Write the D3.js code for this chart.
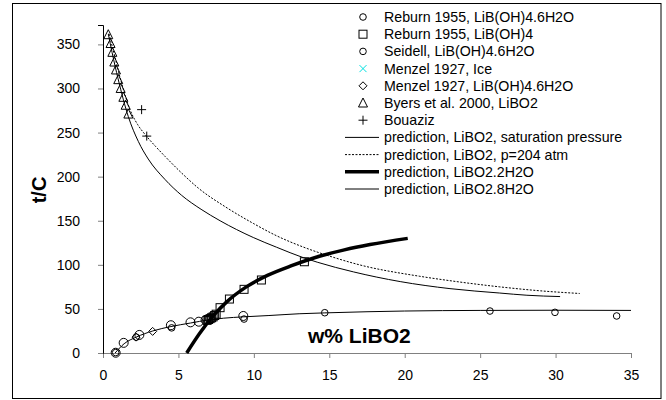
<!DOCTYPE html>
<html>
<head>
<meta charset="utf-8">
<script src="https://cdn.jsdelivr.net/npm/d3@7/dist/d3.min.js"></script>
<style>
  body { margin: 0; background: #fff; }
  svg { font-family: "Liberation Sans", Arial, sans-serif; }
  .axis text { font-size: 14px; fill: #000; }
</style>
</head>
<body>
<div id="chart"></div>
<script>
// measured points, [w% LiBO2, t/C]
const reburnHydrate = [[0.84, 0.3], [1.37, 11.5], [2.41, 20.5], [4.5, 31.5], [5.8, 34.8],
  [6.35, 35.5], [6.8, 37.5], [7.1, 39], [9.3, 42]];
const reburnLiBOH4 = [[6.9, 37], [7.0, 38], [7.1, 39], [7.2, 40], [7.3, 41], [7.4, 42.5], [7.5, 44],
  [7.76, 51.4], [8.38, 61.2], [9.35, 72.2], [10.5, 82.8], [13.35, 103.5]];
const seidell = [[0.84, 0.5], [2.2, 18], [4.55, 28.5], [9.35, 38.5], [14.7, 45.7],
  [25.65, 47.6], [29.96, 46.1], [34.05, 42]];
const menzelIce = [];
const menzelHydrate = [[2.19, 18], [3.29, 24.5]];
const byers = [[0.35, 361], [0.5, 351], [0.62, 341], [0.75, 330], [0.86, 321], [1.01, 310],
  [1.17, 300], [1.35, 290], [1.5, 281], [1.68, 271]];
const bouaziz = [[2.56, 276], [2.9, 246]];

// model curves
const predSat = [[0.35, 362], [0.6, 341], [1.0, 311], [1.68, 268], [2.34, 240], [3.0, 220],
  [4.1, 197], [5.2, 179], [6.5, 163], [7.76, 150], [9.96, 131], [11.5, 120], [13.3, 108],
  [14.2, 103], [16.6, 92], [19.7, 81], [23, 73], [26.3, 68], [28.1, 65.5], [30.3, 64]];
const predP204 = [[0.4, 362], [0.8, 335], [1.2, 308], [1.79, 276], [2.3, 259], [2.83, 247],
  [3.5, 234], [4.11, 223], [5.22, 204], [6.32, 187], [8.09, 166], [9.96, 147], [11.5, 133],
  [13.3, 120], [15, 110], [17, 100], [21, 87], [23, 82], [26.3, 75], [29, 70.5], [31.6, 67.5]];
const pred2H2O = [[5.55, 0], [6.4, 22], [7.3, 42], [8.2, 58], [9.5, 75], [10.9, 88], [12.5, 99],
  [14.4, 110], [16, 117], [17.7, 123], [20.2, 130]];
const pred8H2O = [[0.8, 0], [1.4, 10.5], [2.2, 18], [3.3, 25], [4.5, 30], [5.8, 34], [7, 37.5],
  [8, 39.5], [9.3, 41], [11, 42.5], [13, 44.5], [14.7, 45.5], [17.5, 46.8], [20, 47.6],
  [25, 48.3], [30, 48.5], [35, 48.3]];

const xTicks = [0, 5, 10, 15, 20, 25, 30, 35];
const yTicks = [0, 50, 100, 150, 200, 250, 300, 350];

const width = 666, height = 400;
const svg = d3.select('#chart').append('svg')
  .attr('width', width)
  .attr('height', height);

svg.append('rect')
  .attr('x', 12.5).attr('y', 3.5)
  .attr('width', 648.5).attr('height', 395)
  .attr('fill', '#fff')
  .attr('stroke', '#000');

const x = d3.scaleLinear().domain([0, 35]).range([103, 631]);
const y = d3.scaleLinear().domain([0, 372]).range([353, 25]);

// axes
const xAxis = svg.append('g')
  .attr('class', 'x axis')
  .attr('transform', `translate(0,${y(0)})`)
  .call(d3.axisBottom(x).tickValues(xTicks).tickSizeOuter(0).tickSize(5).tickPadding(12));
xAxis.select('.domain').attr('stroke', '#808080');
xAxis.selectAll('.tick line').attr('stroke', '#808080');

const yAxis = svg.append('g')
  .attr('class', 'y axis')
  .attr('transform', `translate(${x(0)},0)`)
  .call(d3.axisLeft(y).tickValues(yTicks).tickSizeOuter(0).tickSize(5).tickPadding(18));
yAxis.select('.domain').attr('stroke', '#000');
yAxis.selectAll('.tick line').attr('stroke', '#808080');

// axis titles
svg.append('text')
  .attr('transform', `translate(46,${190}) rotate(-90)`)
  .attr('text-anchor', 'middle')
  .style('font-size', '20px').style('font-weight', 'bold')
  .text('t/C');

svg.append('text')
  .attr('x', 308).attr('y', 343)
  .style('font-size', '21px').style('font-weight', 'bold')
  .text('w% LiBO2');

// lines
const line = d3.line().x(d => x(d[0])).y(d => y(d[1])).curve(d3.curveMonotoneX);
const lineSeries = [
  { data: predSat, width: 1, dash: null, label: 'prediction, LiBO2, saturation pressure' },
  { data: predP204, width: 1, dash: '2,1.5', label: 'prediction, LiBO2, p=204 atm' },
  { data: pred2H2O, width: 3.5, dash: null, label: 'prediction, LiBO2.2H2O' },
  { data: pred8H2O, width: 1, dash: null, label: 'prediction, LiBO2.8H2O' }
];

svg.append('g').selectAll('path')
  .data(lineSeries)
  .enter().append('path')
  .attr('d', d => line(d.data))
  .attr('fill', 'none')
  .attr('stroke', '#000')
  .attr('stroke-width', d => d.width)
  .attr('stroke-dasharray', d => d.dash);

// marker shapes
function marker(sel, kind, s) {
  if (kind === 'bigCircle') sel.append('circle').attr('r', 4.5);
  else if (kind === 'circle') sel.append('circle').attr('r', 3.3);
  else if (kind === 'square') sel.append('rect').attr('x', -4).attr('y', -4).attr('width', 8).attr('height', 8);
  else if (kind === 'diamond') sel.append('path').attr('d', 'M0,-4L4,0L0,4L-4,0Z');
  else if (kind === 'triangle') sel.append('path').attr('d', 'M0,-5L4.5,4L-4.5,4Z');
  else if (kind === 'plus') sel.append('path').attr('d', 'M-4.5,0H4.5M0,-4.5V4.5');
  else if (kind === 'cross') sel.append('path').attr('d', 'M-3.5,-3.5L3.5,3.5M-3.5,3.5L3.5,-3.5');
  sel.selectAll('*')
    .attr('fill', 'none')
    .attr('stroke', s)
    .attr('stroke-width', 1);
}

const pointSeries = [
  { data: reburnHydrate, kind: 'bigCircle', legendKind: 'circle', color: '#000', label: 'Reburn 1955, LiB(OH)4.6H2O' },
  { data: reburnLiBOH4, kind: 'square', legendKind: 'square', color: '#000', label: 'Reburn 1955, LiB(OH)4' },
  { data: seidell, kind: 'circle', legendKind: 'circle', color: '#000', label: 'Seidell, LiB(OH)4.6H2O' },
  { data: menzelIce, kind: 'cross', legendKind: 'cross', color: '#00e0e0', label: 'Menzel 1927, Ice' },
  { data: menzelHydrate, kind: 'diamond', legendKind: 'diamond', color: '#000', label: 'Menzel 1927, LiB(OH)4.6H2O' },
  { data: byers, kind: 'triangle', legendKind: 'triangle', color: '#000', label: 'Byers et al. 2000, LiBO2' },
  { data: bouaziz, kind: 'plus', legendKind: 'plus', color: '#000', label: 'Bouaziz' }
];

pointSeries.forEach(ser => {
  svg.append('g').selectAll('g')
    .data(ser.data)
    .enter().append('g')
    .attr('transform', d => `translate(${x(d[0])},${y(d[1])})`)
    .each(function () { marker(d3.select(this), ser.kind, ser.color); });
});

// legend
const legend = svg.append('g').attr('class', 'legend');
const rowY = i => 17 + i * 17.2;

pointSeries.forEach((ser, i) => {
  const g = legend.append('g').attr('transform', `translate(363,${rowY(i)})`);
  marker(g, ser.legendKind, ser.color);
  legend.append('text')
    .attr('x', 384).attr('y', rowY(i)).attr('dy', '0.35em')
    .style('font-size', '14.2px')
    .text(ser.label);
});

lineSeries.forEach((ser, j) => {
  const i = j + pointSeries.length;
  legend.append('line')
    .attr('x1', 345).attr('x2', 379)
    .attr('y1', rowY(i)).attr('y2', rowY(i))
    .attr('stroke', '#000')
    .attr('stroke-width', ser.width)
    .attr('stroke-dasharray', ser.dash);
  legend.append('text')
    .attr('x', 384).attr('y', rowY(i)).attr('dy', '0.35em')
    .style('font-size', '14.2px')
    .text(ser.label);
});
</script>
</body>
</html>
